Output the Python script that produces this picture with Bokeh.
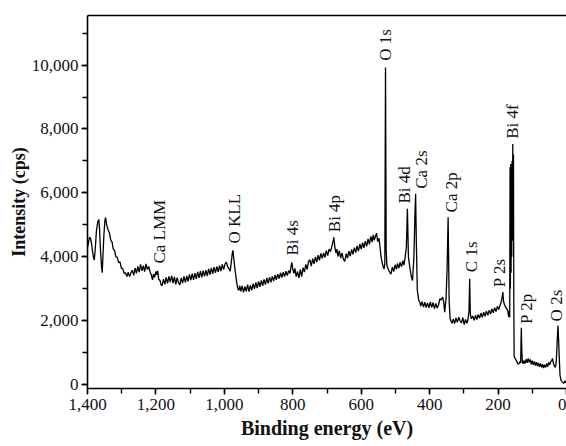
import numpy as np
from bokeh.plotting import figure
from bokeh.models import (Range1d, SingleIntervalTicker, NumeralTickFormatter,
                          LinearAxis, FixedTicker, ColumnDataSource)
from bokeh.core.properties import value
from bokeh.embed import file_html
from bokeh.resources import INLINE

# ---- spectrum (binding energy in eV, intensity in cps) ----
energy = [
    1400, 1397, 1394, 1391, 1388, 1385, 1382, 1380, 1377, 1374,
    1370, 1367, 1365, 1362, 1359, 1357, 1355, 1352, 1349, 1347,
    1344, 1340, 1336, 1332, 1328, 1325, 1321, 1317, 1313, 1309,
    1305, 1301, 1297, 1293, 1289, 1285, 1281, 1277, 1273, 1269,
    1265, 1261, 1257, 1253, 1249, 1245, 1241, 1237, 1233, 1229,
    1225, 1221, 1217, 1213, 1210, 1207, 1204, 1200, 1197, 1195,
    1192, 1188, 1185, 1182, 1178, 1174, 1170, 1166, 1162, 1158,
    1154, 1150, 1146, 1142, 1138, 1134, 1130, 1126, 1122, 1118,
    1114, 1110, 1106, 1102, 1098, 1094, 1090, 1086, 1082, 1078,
    1074, 1070, 1066, 1062, 1058, 1054, 1050, 1046, 1042, 1038,
    1034, 1030, 1026, 1022, 1018, 1014, 1010, 1006, 1002, 998,
    994, 990, 986, 983, 980, 977, 975, 973, 970, 967,
    964, 961, 958, 955, 952, 948, 944, 940, 936, 932,
    928, 924, 920, 916, 912, 908, 904, 900, 896, 892,
    888, 884, 880, 876, 872, 868, 864, 860, 856, 852,
    848, 844, 840, 836, 832, 828, 824, 820, 816, 812,
    808, 805, 803, 800, 797, 794, 790, 786, 782, 778,
    774, 770, 766, 762, 758, 754, 750, 746, 742, 738,
    734, 730, 726, 722, 718, 714, 710, 706, 702, 698,
    694, 690, 686, 683, 680, 677, 674, 671, 668, 664,
    660, 656, 652, 648, 644, 640, 636, 632, 628, 624,
    620, 616, 612, 608, 604, 600, 596, 592, 588, 584,
    580, 576, 572, 568, 565, 562, 558, 555, 552, 548,
    545, 542, 539, 536, 533, 531, 529, 527, 525, 521,
    517, 513, 509, 505, 501, 497, 494, 490, 486, 482,
    478, 475, 472, 468, 465, 462, 458, 454, 450, 446,
    443, 441, 439, 436, 432, 429, 426, 422, 418, 414,
    410, 406, 402, 398, 394, 390, 386, 382, 378, 374,
    370, 366, 362, 359, 356, 352, 349, 346, 343, 340,
    337, 334, 331, 327, 323, 319, 315, 311, 307, 303,
    299, 295, 291, 288, 285, 283, 281, 278, 274, 270,
    266, 262, 258, 254, 250, 246, 242, 238, 234, 230,
    226, 222, 218, 214, 210, 206, 202, 198, 194, 191,
    188, 186, 184, 181, 178, 175, 172, 169, 167, 166,
    165, 164, 163, 162, 161, 160, 159, 158, 157, 156,
    155, 154, 153, 152, 150, 147, 144, 142, 139, 136,
    134, 133, 132, 131, 129, 127, 124, 121, 118, 115,
    112, 109, 106, 103, 100, 97, 94, 91, 88, 85,
    82, 79, 76, 73, 70, 67, 64, 61, 58, 55,
    52, 49, 46, 43, 41, 39, 36, 33, 31, 29,
    27, 25, 23, 21, 19, 16, 12, 8, 4, 2,
    0,
]
intensity = [
    4290, 4450, 4620, 4570, 4400, 4150, 3950, 3900, 4300, 4800,
    5100, 5170, 4900, 4200, 3700, 3500, 4000, 4700, 5150, 5230,
    5000, 4850, 4750, 4520, 4460, 4250, 4200, 4000, 3990, 3820,
    3840, 3640, 3640, 3480, 3500, 3380, 3520, 3380, 3500, 3580,
    3420, 3650, 3480, 3700, 3520, 3760, 3560, 3720, 3540, 3780,
    3600, 3700, 3520, 3420, 3280, 3460, 3360, 3540, 3440, 3560,
    3300, 3260, 3120, 3100, 3300, 3140, 3360, 3170, 3390, 3210,
    3410, 3180, 3370, 3140, 3350, 3190, 3120, 3340, 3180, 3390,
    3200, 3400, 3230, 3450, 3270, 3470, 3280, 3490, 3310, 3530,
    3340, 3550, 3360, 3570, 3390, 3580, 3400, 3620, 3440, 3650,
    3470, 3680, 3500, 3700, 3530, 3720, 3550, 3760, 3600, 3780,
    3830, 3680, 3620, 3550, 3800, 4100, 4200, 4000, 3700, 3450,
    3200, 3020, 2950, 3100, 2920, 3090, 2890, 3070, 2920, 3130,
    2910, 3110, 2950, 3160, 3000, 3200, 3020, 3230, 3060, 3260,
    3090, 3290, 3130, 3340, 3170, 3360, 3200, 3390, 3240, 3430,
    3280, 3460, 3320, 3500, 3350, 3520, 3380, 3550, 3410, 3570,
    3480, 3700, 3830, 3620, 3480, 3640, 3380, 3540, 3340, 3600,
    3380, 3660, 3520, 3760, 3610, 3860, 3900, 3710, 3940, 3780,
    4000, 3830, 4050, 3890, 4110, 3950, 4120, 3980, 4190, 4040,
    4240, 4160, 4320, 4450, 4610, 4300, 4120, 4240, 4010, 4190,
    3960, 4120, 3920, 3860, 4100, 3960, 4180, 4020, 4230, 4080,
    4290, 4130, 4340, 4180, 4400, 4240, 4440, 4280, 4490, 4330,
    4560, 4390, 4640, 4460, 4690, 4520, 4660, 4740, 4480, 4580,
    4300, 4000, 3830, 3700, 3620, 3800, 9920, 4200, 3730, 3620,
    3520, 3460, 3680, 3540, 3750, 3610, 3790, 3650, 3830, 3690,
    3880, 3740, 3950, 4300, 5500, 4000, 3675, 3400, 3260, 4000,
    5300, 5970, 4500, 2950, 2650, 2580, 2460, 2600, 2430, 2580,
    2410, 2560, 2400, 2590, 2420, 2570, 2380, 2540, 2400, 2500,
    2690, 2650, 2740, 2600, 2270, 2700, 3600, 5240, 2600, 2050,
    1980, 1920, 2060, 1910, 2090, 1950, 2110, 2000, 1930, 2100,
    1880, 2040, 1920, 2030, 2300, 3310, 2200, 2060, 2150, 2010,
    2170, 2040, 2200, 2080, 2240, 2110, 2270, 2140, 2300, 2170,
    2330, 2210, 2370, 2250, 2410, 2290, 2450, 2350, 2490, 2580,
    2750, 2895, 2600, 2500, 2425, 2380, 2330, 2120, 2300, 2100,
    6800, 3000, 6900, 3500, 6500, 4000, 7000, 4500, 7530, 5000,
    7200, 2500, 900, 860, 820, 760, 700, 640, 655, 720,
    680, 1300, 1780, 1200, 700, 655, 760, 660, 800, 680,
    820, 700, 790, 640, 750, 620, 730, 600, 700, 580,
    680, 560, 660, 540, 640, 520, 620, 540, 660, 560,
    700, 620, 720, 760, 820, 700, 600, 540, 620, 900,
    1400, 1850, 1400, 800, 300, 135, 80, 40, 120, 60,
    90,
]

# ---- peak labels ----
peak_names = ["Ca LMM", "O KLL", "Bi 4s", "Bi 4p", "O 1s", "Bi 4d", "Ca 2s",
              "Ca 2p", "C 1s", "P 2s", "Bi 4f", "P 2p", "O 2s"]
peak_energy = [1190, 971, 800, 679, 528, 473, 424, 337, 278, 196, 157, 118, 30]
peak_label_base = [3790, 4415, 4040, 4770, 10135, 5665, 6130, 5390, 3520, 3050,
                   7690, 1900, 1980]

x_ticks_interval = 200
y_ticks_interval = 2000

SERIF = "Liberation Serif"
INK = "#111111"

p = figure(width=566, height=446, output_backend="svg", toolbar_location=None,
           x_range=Range1d(1400, 0), y_range=Range1d(-120, 11550),
           min_border_left=87, min_border_right=0, min_border_top=15,
           min_border_bottom=58)
p.grid.visible = False
p.outline_line_color = None
p.background_fill_color = "white"
p.border_fill_color = "white"

p.line(energy, intensity, line_color="#000000", line_width=1.3)

src = ColumnDataSource(dict(x=peak_energy, y=peak_label_base, t=peak_names))
p.text(x="x", y="y", text="t", source=src, angle=np.pi / 2,
       text_align="left", text_baseline="middle",
       text_font=value(SERIF), text_font_size=value("17px"), text_color=INK)

# axes
p.xaxis.ticker = SingleIntervalTicker(interval=x_ticks_interval, num_minor_ticks=2)
p.yaxis.ticker = SingleIntervalTicker(interval=y_ticks_interval, num_minor_ticks=2)
p.xaxis.formatter = NumeralTickFormatter(format="0,0")
p.yaxis.formatter = NumeralTickFormatter(format="0,0")
p.xaxis.axis_label = "Binding energy (eV)"
p.yaxis.axis_label = "Intensity (cps)"

for ax in (p.xaxis[0], p.yaxis[0]):
    ax.axis_line_color = "#000000"
    ax.axis_line_width = 1.6
    ax.major_tick_line_color = "#000000"
    ax.minor_tick_line_color = "#000000"
    ax.major_tick_line_width = 1.4
    ax.minor_tick_line_width = 1.4
    ax.major_tick_in = 0
    ax.major_tick_out = 6
    ax.minor_tick_in = 0
    ax.minor_tick_out = 5
    ax.major_label_text_font = SERIF
    ax.major_label_text_font_size = "17px"
    ax.major_label_text_color = INK
    ax.axis_label_text_font = SERIF
    ax.axis_label_text_font_style = "bold"
    ax.axis_label_text_color = INK

p.xaxis.major_label_standoff = 4
p.xaxis.axis_label_standoff = 4
p.xaxis.axis_label_text_font_size = "20px"
p.yaxis.major_label_standoff = 3
p.yaxis.axis_label_standoff = 0
p.yaxis.axis_label_text_font_size = "18px"

top = LinearAxis(ticker=FixedTicker(ticks=[]), axis_line_color="#000000",
                 axis_line_width=1.6, major_tick_out=0, major_tick_in=0,
                 minor_tick_out=0, minor_tick_in=0,
                 major_label_text_font_size="0px", major_label_standoff=0)
p.add_layout(top, "above")

open("out.html", "w").write(file_html(p, INLINE))
